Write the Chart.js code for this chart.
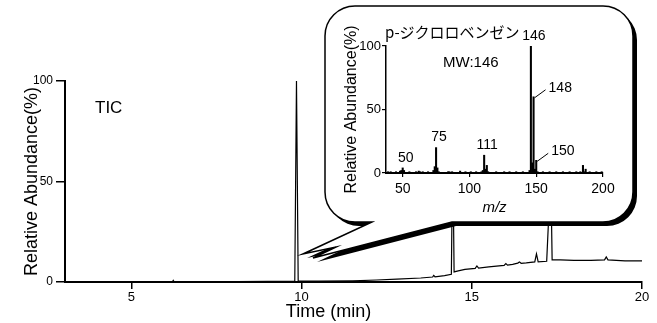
<!DOCTYPE html>
<html>
<head>
<meta charset="utf-8">
<script src="https://cdn.jsdelivr.net/npm/chart.js"></script>
<style>
  html, body { margin: 0; padding: 0; background: #fff; }
  #wrap { position: relative; width: 657px; height: 323px; }
  #tic { position: absolute; left: 0; top: 0; }
  #ms { position: absolute; left: 330px; top: 10px; }
</style>
</head>
<body>
<div id="wrap">
  <canvas id="tic" width="657" height="323"></canvas>
  <canvas id="ms" width="296" height="208"></canvas>
</div>
<script>
// TIC クロマトグラム
const ticTime  = [3.05, 6.2, 6.23, 6.26, 9.0, 9.8, 9.85, 9.9, 10.5, 11.5, 12.2, 12.8, 13.5, 13.85, 13.88, 13.92, 14.2, 14.4, 14.44, 14.48, 14.6, 14.8, 15.1, 15.15, 15.2, 15.5, 15.8, 15.95, 16.0, 16.05, 16.2, 16.35, 16.4, 16.45, 16.6, 16.85, 16.9, 16.95, 17.2, 17.32, 17.36, 17.6, 18.0, 18.5, 18.9, 18.95, 19.0, 19.5, 20];
const ticAbund = [0, 0, 0.8, 0, 0.3, 0.4, 100, 0.5, 0.4, 0.6, 1, 1.4, 2, 2.5, 3.3, 2.6, 3.2, 3.8, 70, 5, 5.5, 6.3, 6.8, 8, 6.9, 7.5, 8, 8.3, 9.2, 8.4, 8.8, 9.4, 10, 9.3, 9.5, 10, 14, 10, 10.3, 55, 11, 11, 10.8, 10.8, 11, 12.5, 11, 10.5, 10.5];
const timeTicks  = [5, 10, 15, 20];
const abundTicks = [0, 50, 100];

// マススペクトル (p-ジクロロベンゼン)
const specMz    = [39, 41, 45, 48, 49, 50, 51, 55, 60, 62, 63, 65, 69, 73, 74, 75, 76, 77, 84, 85, 87, 93, 97, 101, 105, 109, 110, 111, 112, 113, 114, 120, 126, 130, 135, 140, 145, 146, 147, 148, 149, 150, 151, 155, 160, 165, 170, 175, 180, 183, 185, 186, 187, 190, 195, 199];
const specAbund = [1, 1, 1, 1.5, 2, 4, 2, 1, 1, 1.5, 1, 1, 1, 2, 5, 20, 4, 1, 1, 1, 1, 1.5, 1, 1, 1, 1, 2, 14, 3, 6, 1, 1, 1, 1, 1, 1, 2, 100, 8, 60, 3, 10, 1, 1, 1, 1, 1, 1, 1, 1, 6, 1, 3, 1, 1, 1];
const mzTicks = [50, 100, 150, 200];
const labelAbove  = [50, 75, 111, 146];
const labelLeader = [148, 150];
const compound = 'p-ジクロロベンゼン';
const mwText = 'MW:146';

Chart.defaults.font.family = "'Liberation Sans', Arial, sans-serif";
Chart.defaults.color = '#000';

const setTicks = vals => scale => { scale.ticks = vals.map(v => ({ value: v })); };

// 吹き出し
function bubblePath(ctx) {
  const L = 325, T = 6, R = 633, B = 222, r = 30;
  ctx.beginPath();
  ctx.moveTo(L + r, T);
  ctx.lineTo(R - r, T); ctx.arcTo(R, T, R, T + r, r);
  ctx.lineTo(R, B - r); ctx.arcTo(R, B, R - r, B, r);
  ctx.lineTo(452, B);
  ctx.lineTo(313, 258);
  ctx.lineTo(336, 247);
  ctx.lineTo(303, 254);
  ctx.lineTo(372, B);
  ctx.lineTo(L + r, B); ctx.arcTo(L, B, L, B - r, r);
  ctx.lineTo(L, T + r); ctx.arcTo(L, T, L + r, T, r);
  ctx.closePath();
}

const ticDecor = {
  id: 'ticDecor',
  afterDatasetsDraw(chart) {
    const ctx = chart.ctx, a = chart.chartArea;
    ctx.save();
    ctx.fillStyle = '#000';
    ctx.font = "17px 'Liberation Sans', Arial, sans-serif";
    ctx.textBaseline = 'middle';
    ctx.fillText('TIC', a.left + 30, a.top + 27);
    // 影
    ctx.translate(4, 4);
    bubblePath(ctx);
    ctx.fill();
    ctx.translate(-4, -4);
    bubblePath(ctx);
    ctx.fillStyle = '#fff';
    ctx.fill();
    ctx.lineWidth = 1.5;
    ctx.strokeStyle = '#000';
    ctx.stroke();
    ctx.restore();
  }
};

new Chart(document.getElementById('tic'), {
  type: 'line',
  data: {
    datasets: [{
      data: ticTime.map((t, i) => ({ x: t, y: ticAbund[i] })),
      borderColor: '#000',
      borderWidth: 1.2,
      pointRadius: 0,
      tension: 0
    }]
  },
  options: {
    responsive: false,
    animation: false,
    layout: { padding: { top: 81, right: 15, left: 0, bottom: 0 } },
    plugins: { legend: { display: false }, tooltip: { enabled: false } },
    scales: {
      x: {
        type: 'linear', min: 3.05, max: 20,
        afterBuildTicks: setTicks(timeTicks),
        afterFit: s => { s.height = 41; },
        border: { color: '#000', width: 2 },
        grid: { drawOnChartArea: false, tickLength: 7, color: '#000', lineWidth: 1.5 },
        ticks: { font: { size: 13 }, padding: 1, maxRotation: 0 },
        title: { display: true, text: 'Time (min)          ', font: { size: 18 }, padding: { top: 0, bottom: 0 } }
      },
      y: {
        min: 0, max: 100,
        afterBuildTicks: setTicks(abundTicks),
        afterFit: s => { s.width = 65; },
        border: { color: '#000', width: 2 },
        grid: { drawOnChartArea: false, tickLength: 9, color: '#000', lineWidth: 1.5 },
        ticks: { font: { size: 12 }, padding: 3 },
        title: { display: true, text: 'Relative Abundance(%)', font: { size: 18 }, padding: { top: 21, bottom: 0 } }
      }
    }
  },
  plugins: [ticDecor]
});

// スペクトルの注記
const msLabels = {
  id: 'msLabels',
  afterDatasetsDraw(chart) {
    const ctx = chart.ctx, a = chart.chartArea;
    const xs = chart.scales.x, ys = chart.scales.y;
    const abundAt = mz => specAbund[specMz.indexOf(mz)];
    ctx.save();
    ctx.fillStyle = '#000';
    ctx.strokeStyle = '#000';
    ctx.lineWidth = 1;
    ctx.font = "14px 'Liberation Sans', Arial, sans-serif";
    ctx.textAlign = 'center';
    ctx.textBaseline = 'bottom';
    labelAbove.forEach(mz => {
      ctx.fillText(String(mz), xs.getPixelForValue(mz) + 3, ys.getPixelForValue(abundAt(mz)) - 3);
    });
    ctx.textAlign = 'left';
    ctx.textBaseline = 'middle';
    labelLeader.forEach(mz => {
      const x = xs.getPixelForValue(mz), y = ys.getPixelForValue(abundAt(mz));
      ctx.beginPath();
      ctx.moveTo(x + 1, y + 1);
      ctx.lineTo(x + 12, y - 7);
      ctx.stroke();
      ctx.fillText(String(mz), x + 15, y - 9);
    });
    ctx.font = "15px 'Noto Sans CJK JP', 'Liberation Sans', sans-serif";
    ctx.fillText(compound, a.left - 1, a.top - 14);
    ctx.font = "15px 'Liberation Sans', Arial, sans-serif";
    ctx.fillText(mwText, a.left + 57, a.top + 17);
    ctx.restore();
  }
};

new Chart(document.getElementById('ms'), {
  type: 'bar',
  data: {
    datasets: [{
      data: specMz.map((m, i) => ({ x: m, y: specAbund[i] })),
      backgroundColor: '#000',
      barThickness: 1.4,
      grouped: false
    }]
  },
  options: {
    responsive: false,
    animation: false,
    layout: { padding: { top: 36, right: 23, left: 0, bottom: 0 } },
    plugins: { legend: { display: false }, tooltip: { enabled: false } },
    scales: {
      x: {
        type: 'linear', min: 37.5, max: 200, offset: false,
        afterBuildTicks: setTicks(mzTicks),
        afterFit: s => { s.height = 45; },
        border: { color: '#000', width: 2 },
        grid: { offset: false, drawOnChartArea: false, tickLength: 4, color: '#000', lineWidth: 1.2 },
        ticks: { font: { size: 14 }, padding: 4, maxRotation: 0 },
        title: { display: true, text: 'm/z', font: { size: 15, style: 'italic' }, padding: { top: 0, bottom: 1 } }
      },
      y: {
        min: 0, max: 100,
        afterBuildTicks: setTicks(abundTicks),
        afterFit: s => { s.width = 56; },
        border: { color: '#000', width: 1.5 },
        grid: { drawOnChartArea: false, tickLength: 4, color: '#000', lineWidth: 1.2 },
        ticks: { font: { size: 13 }, padding: 1 },
        title: { display: true, text: 'Relative Abundance(%)', font: { size: 16 }, padding: { top: 12, bottom: 0 } }
      }
    }
  },
  plugins: [msLabels]
});
</script>
</body>
</html>
